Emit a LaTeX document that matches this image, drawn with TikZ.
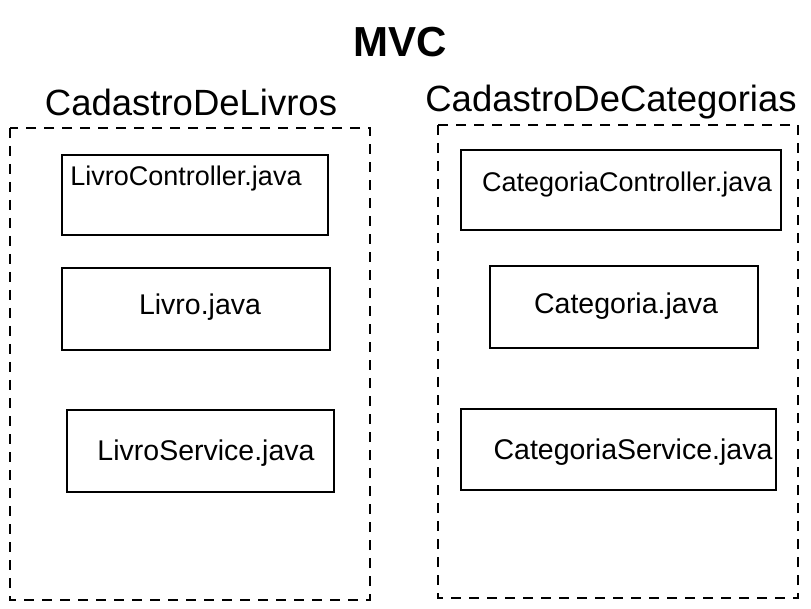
\documentclass[tikz,border=0pt]{standalone}
\usepackage{fontspec}
\setmainfont{Liberation Sans}
\begin{document}
\begin{tikzpicture}[x=1pt,y=-1pt,
  box/.style={draw=black,line width=1.8pt,inner sep=0pt},
  group/.style={draw=black,line width=1.8pt,dash pattern=on 10pt off 8pt},
  lbl/.style={anchor=base,inner sep=0pt,font=\fontsize{27}{30}\selectfont},
  lblb/.style={anchor=base,inner sep=0pt,font=\fontsize{28.5}{32}\selectfont},
  ttl/.style={anchor=base,inner sep=0pt,font=\fontsize{36.5}{42}\selectfont}]
\useasboundingbox (0,0) rectangle (811,609);
% title
\node[anchor=base,inner sep=0pt,font=\fontsize{42}{48}\selectfont\bfseries] (mvc) at (400,57) {MVC};
% groups
\draw[group] (10,128) rectangle (370,600);
\draw[group] (438,125) rectangle (798,598);
\node[ttl] (gl) at (191,116) {CadastroDeLivros};
\node[ttl] (gr) at (611,112) {CadastroDeCategorias};
% left boxes
\draw[box] (62,155) rectangle (328,235);
\draw[box] (62,268) rectangle (330,350);
\draw[box] (67,410) rectangle (334,492);
\node[lbl] (lc) at (186,186) {LivroController.java};
\node[lblb] (lm) at (200,315) {Livro.java};
\node[lblb] (ls) at (206,460) {LivroService.java};
% right boxes
\draw[box] (461,150) rectangle (781,230);
\draw[box] (490,266) rectangle (758,348);
\draw[box] (461,409) rectangle (776,490);
\node[lbl] (cc) at (627,192) {CategoriaController.java};
\node[lblb] (cm) at (626,314) {Categoria.java};
\node[lblb] (cs) at (633,459) {CategoriaService.java};
\end{tikzpicture}
\end{document}
